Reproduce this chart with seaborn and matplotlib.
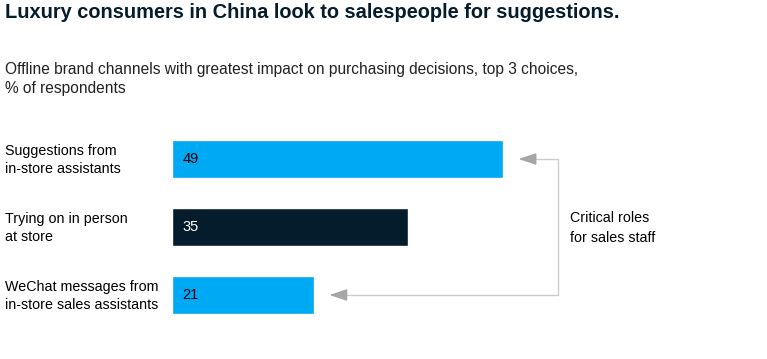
import matplotlib
matplotlib.use("Agg")
import matplotlib.pyplot as plt
import seaborn as sns
import pandas as pd

categories = ["Suggestions from\nin-store assistants",
              "Trying on in person\nat store",
              "WeChat messages from\nin-store sales assistants"]
values = [49, 35, 21]
bar_colors = ["#00A9F4", "#051C2C", "#00A9F4"]
label_colors = ["#000000", "#FFFFFF", "#000000"]
title = "Luxury consumers in China look to salespeople for suggestions."
subtitle = "Offline brand channels with greatest impact on purchasing decisions, top 3 choices,\n% of respondents"
annotation = "Critical roles\nfor sales staff"

sns.set_theme(style="white")
plt.rcParams['font.family'] = ['Liberation Sans', 'DejaVu Sans']

W, H = 767, 359
fig = plt.figure(figsize=(W / 100, H / 100), dpi=100)

# axes in pixel coordinates
ax_left, ax_top, ax_bottom = 172, 125, 329
ax = fig.add_axes([ax_left / W, 1 - ax_bottom / H, (W - ax_left) / W, (ax_bottom - ax_top) / H])

df = pd.DataFrame({"cat": categories, "val": values})
sns.barplot(data=df, x="val", y="cat", hue="cat", palette=bar_colors,
            legend=False, width=0.57, ax=ax, saturation=1, orient="h")

px_per_unit = 331 / 49
ax.set_xlim(0, (W - ax_left) / px_per_unit)
ax.set_ylim(2.5, -0.5)
ax.axis("off")

for i, (v, c) in enumerate(zip(values, label_colors)):
    ax.text(1.5, i, str(v), ha="left", va="center", fontsize=10.5, color=c)

# category labels
for i, cat in enumerate(categories):
    y_px = 160 + 68 * i
    fig.text(5 / W, 1 - y_px / H, cat, ha="left", va="center", fontsize=10.3,
             color="#000000", linespacing=1.45)

# bracket with arrows
x_line = 57.1
off = 2.3
line_col = "#cccccc"
ax.plot([values[0] + off + 1.0, x_line, x_line, values[2] + off + 1.0],
        [0, 0, 2, 2], color=line_col, lw=1.0, solid_joinstyle="miter", clip_on=False)
for idx in (0, 2):
    ax.annotate("", xy=(values[idx] + off, idx), xytext=(values[idx] + off + 2.0, idx),
                arrowprops=dict(arrowstyle="-|>,head_length=0.9,head_width=0.3",
                                color="#a6a6a6", lw=1.0, shrinkA=0, shrinkB=0))
fig.text(570 / W, 1 - 228 / H, annotation, ha="left", va="center", fontsize=10.3,
         color="#000000", linespacing=1.55)

fig.text(5 / W, 1 - 12 / H, title, ha="left", va="center", fontsize=14.4,
         fontweight="bold", color="#051C2C")
fig.text(5 / W, 1 - 79 / H, subtitle, ha="left", va="center", fontsize=11.2,
         color="#222222", linespacing=1.3)

fig.savefig("out.png", dpi=100)
